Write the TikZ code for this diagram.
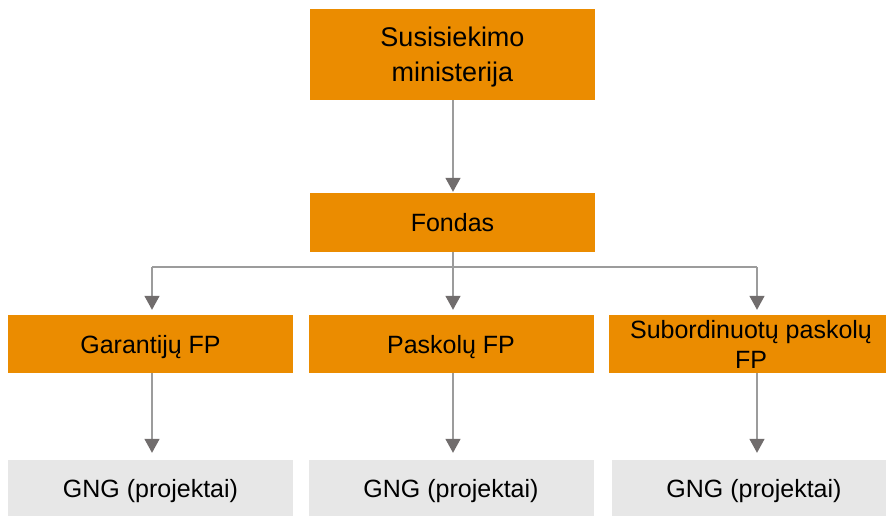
\documentclass[tikz,border=0pt]{standalone}
\usepackage{fontspec}
\setmainfont{Liberation Sans}
\usetikzlibrary{arrows.meta}
\definecolor{pwcorange}{HTML}{EB8C00}
\definecolor{boxgray}{HTML}{E7E7E7}
\definecolor{linegray}{HTML}{9C9C9C}
\definecolor{tipgray}{HTML}{716D6D}
\tikzset{
  orangebox/.style={fill=pwcorange, draw=none, inner sep=0pt, align=center, text=black,
    font=\fontsize{25}{30}\selectfont},
  oneline/.style={text height=18pt, text depth=0pt},
  graybox/.style={fill=boxgray, draw=none, inner sep=0pt, align=center, text=black,
    font=\fontsize{25}{30}\selectfont, minimum width=285pt, minimum height=56pt, oneline},
  conn/.style={draw=linegray, line width=1.5pt},
  arr/.style={conn, -{Triangle[width=15pt,length=14pt,fill=tipgray,color=tipgray]}, shorten >=5pt}
}
\begin{document}
\begin{tikzpicture}[x=1pt,y=-1pt]
\useasboundingbox (0,0) rectangle (886,515);
% boxes
\node[orangebox, minimum width=285pt, minimum height=91pt, font=\fontsize{27}{34.3}\selectfont,
      text height=53pt, text depth=0pt] (min) at (452.5,54.5) {Susisiekimo\\ministerija};
\node[orangebox, oneline, minimum width=285pt, minimum height=59pt] (fond) at (452.5,222.5) {Fondas};
\node[orangebox, oneline, minimum width=285pt, minimum height=58pt] (gar) at (150.5,344) {Garantijų FP};
\node[orangebox, oneline, minimum width=285pt, minimum height=58pt] (pas) at (451,344) {Paskolų FP};
\node[orangebox, minimum width=284pt, minimum height=58pt] (sub) at (751,344) {Subordinuotų paskolų\\FP};
\node[graybox] (g1) at (150.5,488) {GNG (projektai)};
\node[graybox] (g2) at (451,488) {GNG (projektai)};
\node[graybox] (g3) at (754,488) {GNG (projektai)};
% connectors
\coordinate (split) at (453,267);
\coordinate (bl) at (152,267);
\coordinate (br) at (757,267);
\draw[arr, shorten >=1pt] (min.south -| split) -- (fond.north -| split);
\draw[conn] (fond.south -| split) -- (split);
\draw[conn] (bl) -- (br);
\draw[arr] (bl) -- (bl |- gar.north);
\draw[arr] (split) -- (split |- pas.north);
\draw[arr] (br) -- (br |- sub.north);
\draw[arr, shorten >=7pt] (gar.south -| bl) -- (g1.north -| bl);
\draw[arr, shorten >=7pt] (pas.south -| split) -- (g2.north -| split);
\draw[arr, shorten >=7pt] (sub.south -| br) -- (g3.north -| br);
\end{tikzpicture}
\end{document}
